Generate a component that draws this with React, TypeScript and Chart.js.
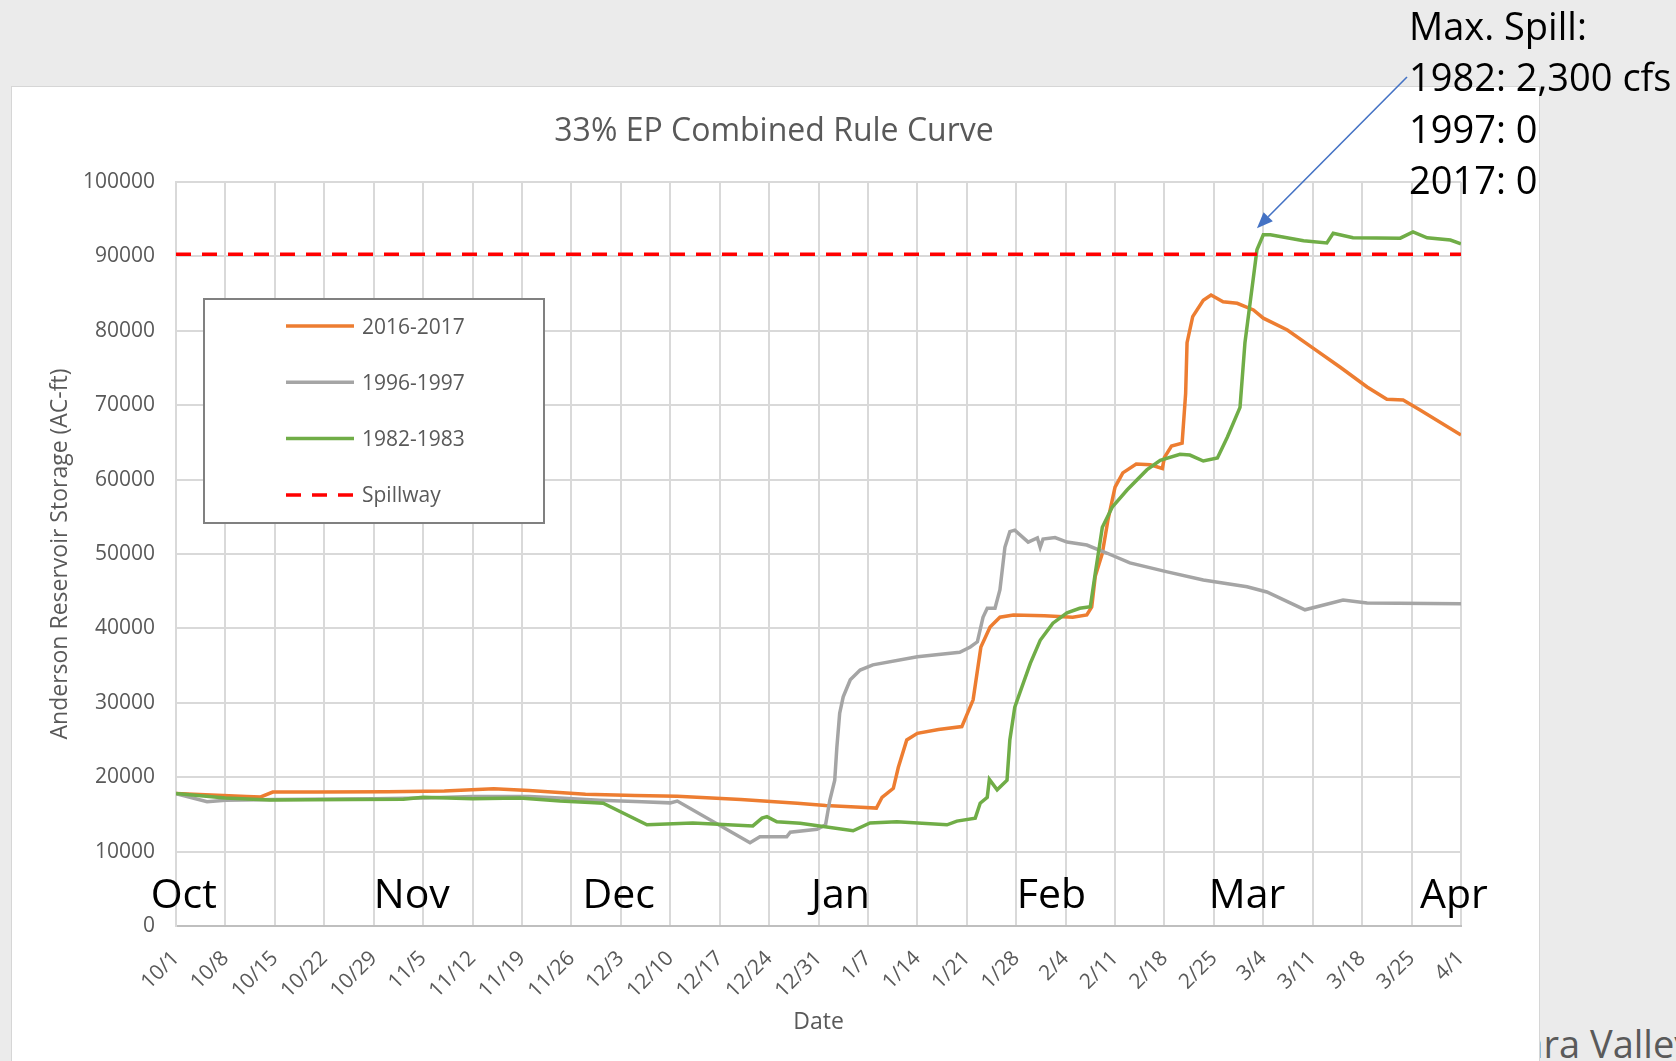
import React, { useEffect, useRef } from "react";
import { Chart, registerables } from "chart.js";

Chart.register(...registerables);

const FONT = "'Open Sans', 'DejaVu Sans', sans-serif";

const chartTitle = "33% EP Combined Rule Curve";
const yAxisTitle = "Anderson Reservoir Storage (AC-ft)";
const xAxisTitle = "Date";

// Weekly tick labels (day 0 = 10/1, step 7 days)
const xTickLabels = [
  "10/1", "10/8", "10/15", "10/22", "10/29", "11/5", "11/12", "11/19", "11/26",
  "12/3", "12/10", "12/17", "12/24", "12/31", "1/7", "1/14", "1/21", "1/28",
  "2/4", "2/11", "2/18", "2/25", "3/4", "3/11", "3/18", "3/25", "4/1",
];

const monthLabels = ["Oct", "Nov", "Dec", "Jan", "Feb", "Mar", "Apr"];
const monthLabelDays = [1.1, 33.4, 62.7, 94.1, 124.0, 151.7, 181.0];

const annotationLines = ["Max. Spill:", "1982: 2,300 cfs", "1997: 0", "2017: 0"];
const arrowTip = { day: 153.1, value: 93800 };

// 2016-2017 (orange)
const days2017 = [
  0, 5, 10, 12, 13.7, 20, 30, 38, 45, 50, 58, 65, 71, 80, 88, 92, 97, 99.2, 100,
  101.6, 102.3, 103.5, 105, 108, 111.3, 112.9, 114, 115.3, 116.7, 118.6, 123, 127,
  129, 129.7, 130.2, 131.2, 132, 133, 134.1, 136, 138, 139.7, 140, 141, 142.5, 143,
  143.2, 144, 145.5, 146.6, 148.3, 150.3, 152.6, 154, 157.4, 161, 164.9, 168.7,
  171.5, 173.8, 176.2, 182,
];
const storage2017 = [
  17800, 17600, 17400, 17350, 18000, 18000, 18050, 18150, 18450, 18200, 17700, 17550,
  17450, 17000, 16500, 16200, 15950, 15850, 17300, 18500, 21300, 25000, 25900, 26400,
  26800, 30400, 37500, 40200, 41500, 41800, 41700, 41500, 41800, 42900, 47000, 50100,
  54600, 59000, 60900, 62100, 62000, 61500, 63000, 64500, 64900, 71600, 78400, 81900,
  84100, 84800, 83900, 83700, 82800, 81700, 80100, 77700, 75100, 72450, 70800, 70700,
  69350, 66000,
];

// 1996-1997 (gray)
const days1997 = [
  0, 4.4, 7, 14, 28, 35, 42, 50, 54.4, 60, 66, 70, 71, 81.3, 82.7, 86.5, 87, 90.8, 92,
  92.6, 93.3, 93.6, 94, 94.5, 95.5, 96.9, 98.7, 105, 111, 112.5, 113.5, 114.3, 114.9,
  116, 116.7, 117.4, 118.1, 118.8, 120.7, 122, 122.4, 122.8, 124.5, 126.2, 129, 131.9,
  135.1, 140.4, 145.5, 151.7, 154.5, 159.9, 165.3, 168.7, 182,
];
const storage1997 = [
  17800, 16700, 16900, 17000, 17100, 17200, 17400, 17400, 17200, 16900, 16700, 16550,
  16800, 11200, 12000, 12000, 12600, 13000, 13600, 16900, 19600, 24000, 28600, 30800,
  33100, 34400, 35100, 36200, 36800, 37500, 38200, 41500, 42700, 42700, 45200, 50900,
  53000, 53200, 51600, 52150, 50900, 52000, 52200, 51600, 51200, 50100, 48800, 47600,
  46500, 45600, 44900, 42500, 43800, 43400, 43300,
];

// 1982-1983 (green)
const days1983 = [
  0, 7, 13.3, 25, 32.2, 35, 42, 48.7, 54.4, 58.6, 60.5, 66.7, 73.2, 81.7, 83, 83.7,
  85.1, 88.4, 95.9, 98.3, 102.1, 109.2, 110.6, 113.2, 113.9, 114.9, 115.2, 116.3,
  117.7, 118.1, 118.8, 119.5, 121, 122.4, 124.2, 126.2, 128, 129.5, 130.2, 131.2,
  132.6, 134.7, 137.5, 139.4, 142.2, 143.6, 145.5, 147.5, 148.9, 150.7, 151.4, 152.6,
  153.1, 154, 155, 159.7, 163, 163.9, 166.7, 173.4, 175.2, 177.2, 180.5, 182,
];
const storage1983 = [
  17800, 17200, 16950, 17000, 17050, 17300, 17100, 17200, 16800, 16600, 16500, 13600,
  13850, 13450, 14500, 14700, 14000, 13800, 12800, 13850, 14000, 13600, 14100, 14500,
  16500, 17300, 19700, 18300, 19600, 25000, 29400, 31300, 35300, 38400, 40700, 42100,
  42700, 42900, 47400, 53600, 56300, 58600, 61300, 62600, 63400, 63300, 62500, 62900,
  65700, 69700, 78400, 87200, 90900, 92900, 92900, 92100, 91800, 93100, 92500, 92450,
  93300, 92500, 92200, 91700,
];

// Spillway level
const spillwayDays = [0, 182];
const spillwayLevel = [90300, 90300];

const toPoints = (xs: number[], ys: number[]) => xs.map((x, i) => ({ x, y: ys[i] }));

const overlayPlugin = {
  id: "overlay",
  afterDraw(chart: any) {
    const ctx = chart.ctx as CanvasRenderingContext2D;
    const xs = chart.scales.x;
    const ys = chart.scales.y;
    ctx.save();

    // Title
    ctx.fillStyle = "#595959";
    ctx.font = `32px ${FONT}`;
    ctx.textAlign = "center";
    ctx.textBaseline = "alphabetic";
    ctx.fillText(chartTitle, 774, 141);

    // Legend box
    const bx = 204, by = 299, bw = 340, bh = 224;
    ctx.fillStyle = "#ffffff";
    ctx.fillRect(bx, by, bw, bh);
    ctx.strokeStyle = "#808080";
    ctx.lineWidth = 2;
    ctx.setLineDash([]);
    ctx.strokeRect(bx, by, bw, bh);
    ctx.font = `21px ${FONT}`;
    ctx.textAlign = "left";
    chart.data.datasets.forEach((ds: any, i: number) => {
      const ry = 326 + i * 56.3;
      ctx.beginPath();
      ctx.strokeStyle = ds.borderColor;
      ctx.lineWidth = 3.5;
      ctx.setLineDash(ds.borderDash || []);
      ctx.moveTo(286, ry);
      ctx.lineTo(354, ry);
      ctx.stroke();
      ctx.setLineDash([]);
      ctx.fillStyle = "#595959";
      ctx.fillText(ds.label, 362, ry + 7.5);
    });

    // Month labels
    ctx.fillStyle = "#000000";
    ctx.font = `41px ${FONT}`;
    ctx.textAlign = "center";
    monthLabels.forEach((m, i) => {
      ctx.fillText(m, xs.getPixelForValue(monthLabelDays[i]), 908);
    });

    // Annotation text
    ctx.font = `38px ${FONT}`;
    ctx.textAlign = "left";
    annotationLines.forEach((t, i) => {
      ctx.fillText(t, 1409, 40 + i * 51.3);
    });

    // Arrow
    const sx = 1407, sy = 77;
    const ex = xs.getPixelForValue(arrowTip.day);
    const ey = ys.getPixelForValue(arrowTip.value);
    const ang = Math.atan2(ey - sy, ex - sx);
    const headLen = 16, headW = 6.5;
    const bxp = ex - headLen * Math.cos(ang);
    const byp = ey - headLen * Math.sin(ang);
    ctx.strokeStyle = "#4472C4";
    ctx.fillStyle = "#4472C4";
    ctx.lineWidth = 1.6;
    ctx.beginPath();
    ctx.moveTo(sx, sy);
    ctx.lineTo(bxp, byp);
    ctx.stroke();
    ctx.beginPath();
    ctx.moveTo(ex, ey);
    ctx.lineTo(bxp + headW * Math.sin(ang), byp - headW * Math.cos(ang));
    ctx.lineTo(bxp - headW * Math.sin(ang), byp + headW * Math.cos(ang));
    ctx.closePath();
    ctx.fill();

    ctx.restore();
  },
};

export default function App() {
  const canvasRef = useRef<HTMLCanvasElement | null>(null);

  useEffect(() => {
    if (!canvasRef.current) return;
    Chart.defaults.font.family = FONT;
    const chart = new Chart(canvasRef.current, {
      type: "line",
      data: {
        datasets: [
          {
            label: "2016-2017",
            data: toPoints(days2017, storage2017),
            borderColor: "#ED7D31",
            borderWidth: 3.5,
            pointRadius: 0,
            tension: 0,
            order: 3,
          },
          {
            label: "1996-1997",
            data: toPoints(days1997, storage1997),
            borderColor: "#A5A5A5",
            borderWidth: 3.5,
            pointRadius: 0,
            tension: 0,
            order: 2,
          },
          {
            label: "1982-1983",
            data: toPoints(days1983, storage1983),
            borderColor: "#70AD47",
            borderWidth: 3.5,
            pointRadius: 0,
            tension: 0,
            order: 1,
          },
          {
            label: "Spillway",
            data: toPoints(spillwayDays, spillwayLevel),
            borderColor: "#FF0000",
            borderWidth: 3.5,
            borderDash: [15, 11],
            pointRadius: 0,
            tension: 0,
            order: 0,
          },
        ] as any,
      },
      options: {
        responsive: false,
        animation: false,
        layout: { padding: { left: 0, right: 215, top: 182, bottom: 0 } },
        plugins: {
          legend: { display: false },
          tooltip: { enabled: false },
          title: { display: false },
        },
        scales: {
          x: {
            type: "linear",
            min: 0,
            max: 182,
            afterFit: (s: any) => {
              s.height = 135;
            },
            ticks: {
              stepSize: 7,
              autoSkip: false,
              minRotation: 45,
              maxRotation: 45,
              padding: 20,
              color: "#595959",
              font: { size: 21 },
              callback: (v: any) => xTickLabels[Math.round(Number(v) / 7)] ?? "",
            },
            grid: { color: "#d9d9d9", lineWidth: 2, drawTicks: false },
            border: { color: "#bfbfbf", width: 2 },
            title: {
              display: true,
              text: xAxisTitle,
              color: "#595959",
              font: { size: 23 },
              padding: { top: 0, bottom: 25 },
            },
          },
          y: {
            min: 0,
            max: 100000,
            afterFit: (s: any) => {
              s.width = 176;
            },
            ticks: {
              stepSize: 10000,
              color: "#595959",
              font: { size: 21 },
              padding: 21,
              callback: (v: any) => String(v),
            },
            grid: { color: "#d9d9d9", lineWidth: 2, drawTicks: false },
            border: { color: "#d9d9d9", width: 2 },
            title: {
              display: true,
              text: yAxisTitle,
              color: "#595959",
              font: { size: 23 },
              padding: { top: 47, bottom: 0 },
            },
          },
        },
      } as any,
      plugins: [overlayPlugin],
    });
    return () => chart.destroy();
  }, []);

  return (
    <div
      style={{
        position: "fixed",
        left: 0,
        top: 0,
        width: 1676,
        height: 1061,
        overflow: "hidden",
        background: "#ebebeb",
      }}
    >
      <div
        style={{
          position: "absolute",
          right: 1676 - 1590,
          top: 1024,
          font: `38px ${FONT}`,
          lineHeight: 1,
          color: "#5a5a5a",
          whiteSpace: "nowrap",
        }}
      >
        Santa Clara&nbsp;
      </div>
      <div
        style={{
          position: "absolute",
          left: 1590,
          top: 1024,
          font: `38px ${FONT}`,
          lineHeight: 1,
          color: "#5a5a5a",
          whiteSpace: "nowrap",
        }}
      >
        Valley Water
      </div>
      <div
        style={{
          position: "absolute",
          left: 11,
          top: 86,
          width: 1527,
          height: 1000,
          background: "#ffffff",
          border: "1px solid #d6d6d6",
        }}
      />
      <canvas
        ref={canvasRef}
        width={1676}
        height={1061}
        style={{ position: "absolute", left: 0, top: 0, width: 1676, height: 1061 }}
      />
    </div>
  );
}
